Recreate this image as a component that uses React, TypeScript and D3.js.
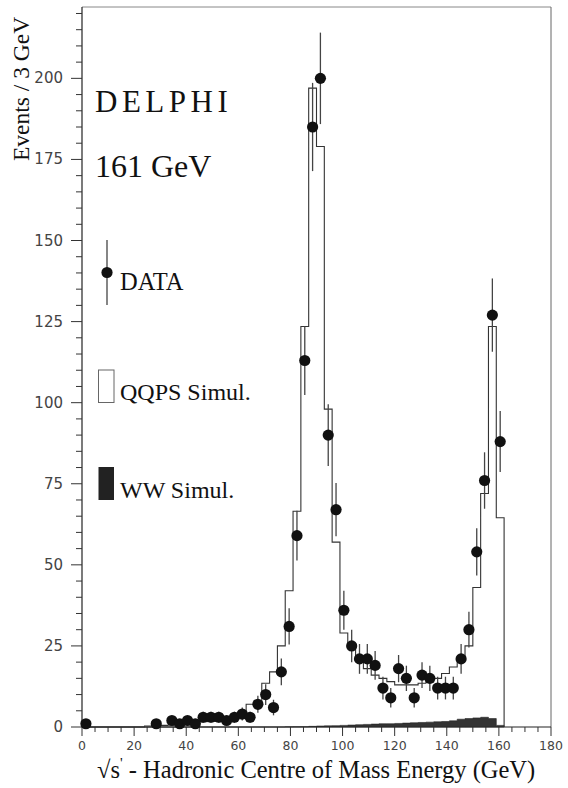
import React from "react";
import * as d3 from "d3";

// ---- Data -------------------------------------------------------------
// 3 GeV bins starting at 0, 3, 6, ... 159 (QQPS simulation, events / 3 GeV)
const binStarts: number[] = [
  0, 3, 6, 9, 12, 15, 18, 21, 24, 27, 30, 33, 36, 39, 42, 45, 48, 51,
  54, 57, 60, 63, 66, 69, 72, 75, 78, 81, 84, 87, 90, 93, 96, 99, 102, 105,
  108, 111, 114, 117, 120, 123, 126, 129, 132, 135, 138, 141, 144, 147, 150,
  153, 156, 159,
];
const qqpsValues: number[] = [
  0, 0, 0, 0, 0, 0, 0, 0, 0.3, 0.4, 0.5, 0.6, 0.7, 0.8, 1.0, 1.6, 1.8, 2.0,
  2.2, 2.5, 4.4, 7, 7.2, 13.5, 17, 25, 42, 66.5, 123.5, 197, 179, 98, 57, 29,
  25, 21, 18, 16, 15, 14, 13, 13, 13, 13.5, 14, 15, 16.5, 18.5, 21, 25, 43,
  72, 123.5, 64.5,
];
const wwValues: number[] = [
  0, 0, 0, 0, 0, 0, 0, 0, 0, 0, 0, 0, 0, 0, 0, 0, 0, 0,
  0, 0, 0, 0, 0, 0, 0, 0, 0.05, 0.08, 0.1, 0.2, 0.3, 0.35, 0.4, 0.5,
  0.6, 0.7, 0.8, 0.9, 1.0, 1.0, 1.1, 1.2, 1.3, 1.4, 1.5, 1.6, 1.7, 1.9, 2.4,
  2.6, 2.8, 3.0, 2.6, 0.5,
];
const histEnd = 162;

// DATA points: bin centres, counts, errors
const dataX: number[] = [
  1.5, 28.5, 34.5, 37.5, 40.5, 43.5, 46.5, 49.5, 52.5, 55.5, 58.5, 61.5, 64.5,
  67.5, 70.5, 73.5, 76.5, 79.5, 82.5, 85.5, 88.5, 91.5, 94.5, 97.5, 100.5,
  103.5, 106.5, 109.5, 112.5, 115.5, 118.5, 121.5, 124.5, 127.5, 130.5, 133.5,
  136.5, 139.5, 142.5, 145.5, 148.5, 151.5, 154.5, 157.5, 160.5,
];
const dataY: number[] = [
  1, 1, 2, 1, 2, 1, 3, 3, 3, 2, 3, 4, 3, 7, 10, 6, 17, 31, 59, 113, 185, 200,
  90, 67, 36, 25, 21, 21, 19, 12, 9, 18, 15, 9, 16, 15, 12, 12, 12, 21, 30,
  54, 76, 127, 88,
];
const dataErr: number[] = [
  1, 1, 1.4, 1, 1.4, 1, 1.7, 1.7, 1.7, 1.4, 1.7, 2, 1.7, 2.6, 3.2, 2.4, 4.1,
  5.6, 7.7, 10.6, 13.6, 14.1, 9.5, 8.2, 6, 5, 4.6, 4.6, 4.4, 3.5, 3, 4.2, 3.9,
  3, 4, 3.9, 3.5, 3.5, 3.5, 4.6, 5.5, 7.3, 8.7, 11.3, 9.4,
];

const xMajorTicks: number[] = [0, 20, 40, 60, 80, 100, 120, 140, 160, 180];
const yMajorTicks: number[] = [0, 25, 50, 75, 100, 125, 150, 175, 200];

// ---- Layout -----------------------------------------------------------
const W = 568;
const H = 788;
const L = 82, R = 551, T = 7, B = 727;

const x = d3.scaleLinear().domain([0, 180]).range([L, R]);
const y = d3.scaleLinear().domain([0, 222]).range([B, T]);

const serif = "'Liberation Serif', 'DejaVu Serif', serif";
const sans = "'DejaVu Sans', 'Liberation Sans', sans-serif";

export default function App() {
  const qqpsPts: [number, number][] = binStarts.map((s, i) => [s, qqpsValues[i]]);
  qqpsPts.push([histEnd, 0]);
  const stepLine = d3
    .line<[number, number]>()
    .x((d) => x(d[0]))
    .y((d) => y(d[1]))
    .curve(d3.curveStepAfter);

  const wwPts: [number, number][] = binStarts.map((s, i) => [s, wwValues[i]]);
  wwPts.push([histEnd, 0]);
  const wwArea = d3
    .area<[number, number]>()
    .x((d) => x(d[0]))
    .y0(y(0))
    .y1((d) => y(d[1]))
    .curve(d3.curveStepAfter);

  const xMinor = d3.range(0, 181, 5);
  const yMinor = d3.range(0, 221, 5);

  return (
    <svg
      width={W}
      height={H}
      style={{ position: "absolute", left: 0, top: 0, background: "#fff" }}
    >
      {/* frame */}
      <line x1={L} y1={T} x2={R} y2={T} stroke="#888" strokeWidth={1} />
      <line x1={R} y1={T} x2={R} y2={B} stroke="#666" strokeWidth={1} />
      <line x1={L} y1={T} x2={L} y2={B} stroke="#222" strokeWidth={1.2} />
      <line x1={L} y1={B} x2={R} y2={B} stroke="#222" strokeWidth={1.2} />

      {/* y ticks */}
      {yMinor.map((v) => {
        const major = v % 25 === 0;
        return (
          <line
            key={"yt" + v}
            x1={L - (major ? 11 : 6)}
            x2={L}
            y1={y(v)}
            y2={y(v)}
            stroke="#333"
            strokeWidth={1}
          />
        );
      })}
      {yMajorTicks.map((v) => (
        <text
          key={"yl" + v}
          x={L - 19}
          y={y(v) + 5}
          textAnchor="end"
          fontFamily={sans}
          fontSize={15}
          fill="#444"
        >
          {v}
        </text>
      ))}

      {/* x ticks */}
      {xMinor.map((v) => {
        const major = v % 20 === 0;
        return (
          <line
            key={"xt" + v}
            x1={x(v)}
            x2={x(v)}
            y1={B}
            y2={B + (major ? 9 : 5)}
            stroke="#333"
            strokeWidth={1}
          />
        );
      })}
      {xMajorTicks.map((v) => (
        <text
          key={"xl" + v}
          x={x(v)}
          y={750}
          textAnchor="middle"
          fontFamily={sans}
          fontSize={12.5}
          fill="#444"
        >
          {v}
        </text>
      ))}

      {/* WW simulation */}
      <path d={wwArea(wwPts) || ""} fill="#333" stroke="#222" strokeWidth={0.6} />

      {/* QQPS simulation */}
      <path d={stepLine(qqpsPts) || ""} fill="none" stroke="#333" strokeWidth={1.1} />

      {/* DATA */}
      {dataX.map((cx, i) => (
        <g key={"d" + i}>
          <line
            x1={x(cx)}
            x2={x(cx)}
            y1={y(dataY[i] - dataErr[i])}
            y2={y(dataY[i] + dataErr[i])}
            stroke="#444"
            strokeWidth={1.3}
          />
          <circle cx={x(cx)} cy={y(dataY[i])} r={5.6} fill="#111" />
        </g>
      ))}

      {/* titles */}
      <text
        x={95}
        y={112}
        fontFamily={serif}
        fontSize={31}
        letterSpacing={4.5}
        fill="#111"
      >
        DELPHI
      </text>
      <text x={95} y={177} fontFamily={serif} fontSize={32} fill="#111">
        161 GeV
      </text>

      {/* legend */}
      <line x1={107} x2={107} y1={240} y2={305} stroke="#444" strokeWidth={1.3} />
      <circle cx={107} cy={272.5} r={5.6} fill="#111" />
      <text x={120} y={290} fontFamily={serif} fontSize={24.5} fill="#111">
        DATA
      </text>
      <rect x={98.5} y={370} width={15.5} height={32.5} fill="none" stroke="#666" strokeWidth={1} />
      <text x={120} y={400} fontFamily={serif} fontSize={24} fill="#111">
        QQPS Simul.
      </text>
      <rect x={98.5} y={467} width={15.5} height={33} fill="#222" />
      <text x={120} y={498} fontFamily={serif} fontSize={24} fill="#111">
        WW Simul.
      </text>

      {/* axis titles */}
      <text x={97} y={778} fontFamily={serif} fontSize={24.5} fill="#111">
        √s
        <tspan dy={-10} fontSize={15}>'</tspan>
        <tspan dy={10}> - Hadronic Centre of Mass Energy (GeV)</tspan>
      </text>
      <text
        transform="translate(29,161) rotate(-90)"
        x={0}
        y={0}
        fontFamily={serif}
        fontSize={23.5}
        fill="#111"
      >
        Events / 3 GeV
      </text>
    </svg>
  );
}
